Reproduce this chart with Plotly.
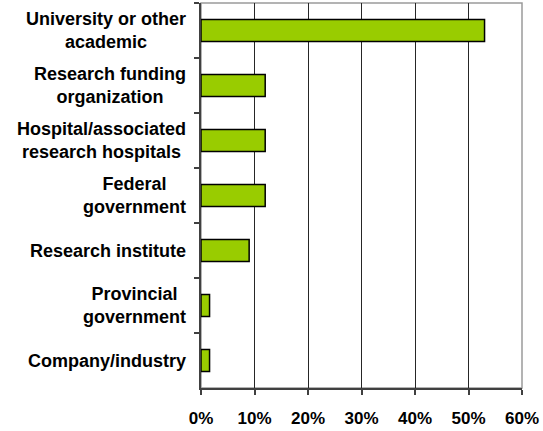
import plotly.graph_objects as go

# Affiliation categories (top to bottom) and share of respondents (%)
categories = [
    "University or other<br>academic",
    "Research funding<br>organization",
    "Hospital/associated<br>research hospitals",
    "Federal<br>government",
    "Research institute",
    "Provincial<br>government",
    "Company/industry",
]
shares = [53, 12, 12, 12, 9, 1.6, 1.6]
x_ticks = [0, 10, 20, 30, 40, 50, 60]
x_tick_labels = [f"{v}%" for v in x_ticks]

FONT = "Liberation Sans, Arial, sans-serif"

fig = go.Figure(
    go.Bar(
        x=shares,
        y=categories,
        orientation="h",
        marker=dict(color="#99CC00", line=dict(color="#000000", width=1.5)),
        hoverinfo="x+y",
    )
)

# Category labels: right-aligned block, lines centred within it
for cat in categories:
    fig.add_annotation(
        x=0, xref="paper", xanchor="right", xshift=-13,
        y=cat, yref="y", yanchor="middle",
        text=cat, align="center", showarrow=False,
        font=dict(family=FONT, size=18, color="#000000", weight="bold"),
    )

# Grey frame around the plot area
fig.add_shape(
    type="rect", xref="paper", yref="paper", x0=0, y0=0, x1=1, y1=1,
    line=dict(color="#9a9a9a", width=1.5), layer="below",
)

fig.update_layout(
    width=543, height=431,
    margin=dict(l=201, r=21, t=3, b=39),
    paper_bgcolor="#ffffff", plot_bgcolor="#ffffff",
    bargap=0.6, showlegend=False,
)
fig.update_xaxes(
    range=[0, 60], tickvals=x_ticks, ticktext=x_tick_labels,
    showgrid=True, gridcolor="#262626", gridwidth=1,
    showline=True, linecolor="#404040", linewidth=1.5,
    ticks="outside", ticklen=5, tickcolor="#404040", tickwidth=1.5,
    ticklabelstandoff=9,
    tickfont=dict(family=FONT, size=17, color="#000000", weight="bold"),
    zeroline=False, fixedrange=True,
)
fig.update_yaxes(
    type="category", range=[6.5, -0.5],
    showticklabels=False, showgrid=False,
    showline=True, linecolor="#404040", linewidth=1.5,
    ticks="outside", tickson="boundaries", ticklen=5,
    tickcolor="#404040", tickwidth=1.5, fixedrange=True,
)

fig.write_html("out.html")
